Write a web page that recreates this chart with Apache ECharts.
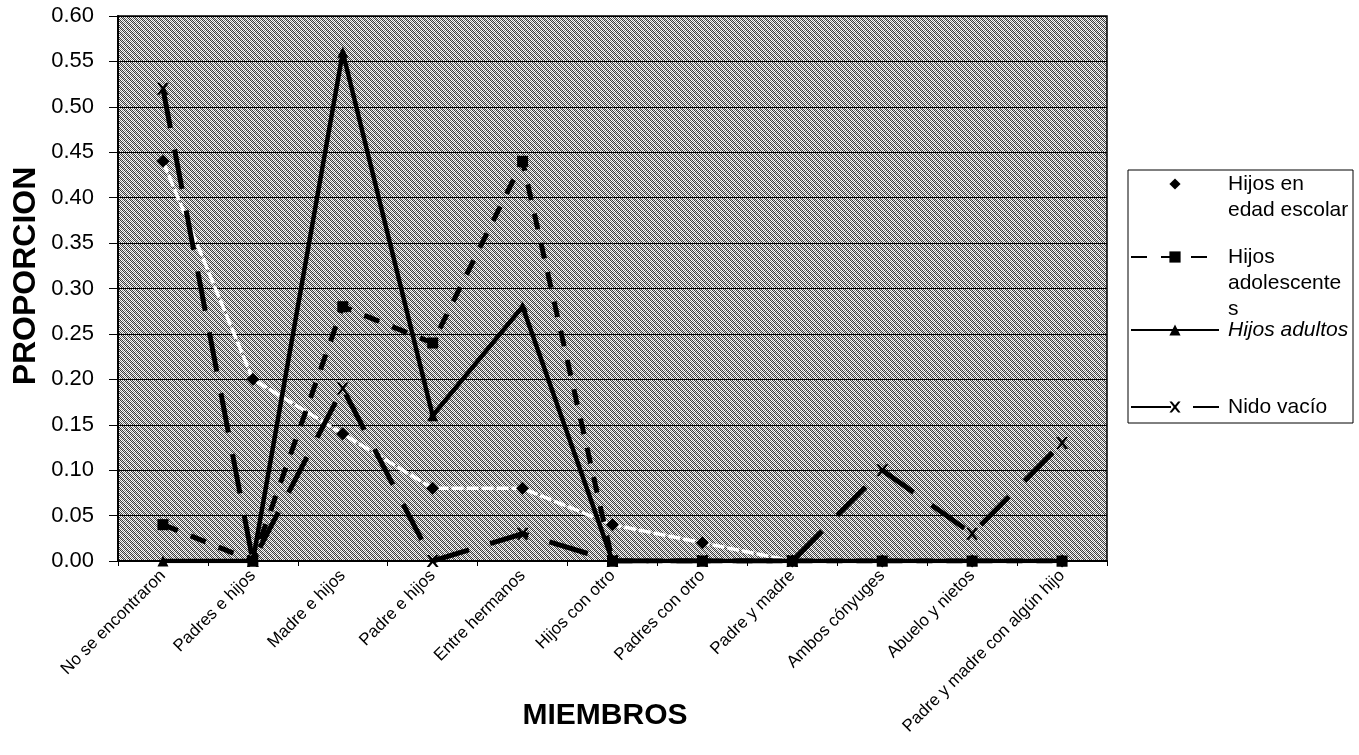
<!DOCTYPE html>
<html>
<head>
<meta charset="utf-8">
<script src="https://cdn.jsdelivr.net/npm/echarts@6/dist/echarts.min.js"></script>
<style>html,body{margin:0;padding:0;background:#fff}#c{width:1359px;height:755px}</style>
</head>
<body>
<div id="c"></div>
<script>
const categories = ['No se encontraron','Padres e hijos','Madre e hijos','Padre e hijos','Entre hermanos','Hijos con otro','Padres con otro','Padre y madre','Ambos cónyuges','Abuelo y nietos','Padre y madre con algún hijo'];
const hijosEscolar =     [0.44, 0.20, 0.14, 0.08, 0.08, 0.04, 0.02, 0.00, 0.00, 0.00, 0.00];
const hijosAdolescentes =[0.04, 0.00, 0.28, 0.24, 0.44, 0.00, 0.00, 0.00, 0.00, 0.00, 0.00];
const hijosAdultos =     [0.00, 0.00, 0.56, 0.16, 0.28, 0.00, 0.00, 0.00, 0.00, 0.00, 0.00];
const nidoVacio =        [0.52, 0.00, 0.19, 0.00, 0.03, 0.00, 0.00, 0.00, 0.10, 0.03, 0.13];
const seriesNames = ['Hijos en edad escolar','Hijos adolescentes','Hijos adultos','Nido vacío'];
const legendLabels = ['\nHijos en\nedad escolar','\n\nHijos\nadolescente\ns','Hijos adultos','Nido vacío'];
const yTicks = {min: 0, max: 0.6, interval: 0.05};

// dithered gray texture for plot area
const tile = document.createElement('canvas');
tile.width = 6; tile.height = 6;
const tc = tile.getContext('2d');
for (let y = 0; y < 6; y++) for (let x = 0; x < 6; x++) {
  const chk = (x + y) % 2 === 0;
  const d = (x - y + 12) % 6;
  let c;
  if (chk) c = (d === 0) ? '#7a7a7a' : '#3a3a3a';
  else c = (d === 3) ? '#d8d8d8' : '#ffffff';
  tc.fillStyle = c; tc.fillRect(x, y, 1, 1);
}

const FONT = '"Liberation Sans", Arial, sans-serif';
const xMark = 'path://M0,0 L2.2,0 L5,3.4 L7.8,0 L10,0 L6.2,5 L10,10 L7.8,10 L5,6.6 L2.2,10 L0,10 L3.8,5 Z';

const chart = echarts.init(document.getElementById('c'));
const LH = 26;
const lineCounts = [3, 5, 1, 1];
const iconY = [184, 257, 330, 407];
const legends = seriesNames.map((n, i) => ({
  data: [n],
  left: 1130,
  top: iconY[i] - lineCounts[i] * LH / 2,
  padding: 0,
  orient: 'vertical',
  itemWidth: 88,
  itemHeight: 14,
  itemGap: 0,
  selectedMode: false,
  formatter: () => legendLabels[i],
  textStyle: {
    fontFamily: FONT, fontSize: 21, color: '#000', lineHeight: LH,
    fontStyle: i === 2 ? 'italic' : 'normal',
    padding: [0, 0, 0, 4]
  }
}));

chart.setOption({
  animation: false,
  backgroundColor: '#fff',
  grid: {left: 118, right: 252, top: 16, bottom: 194, show: true,
    backgroundColor: {image: tile, repeat: 'repeat'}, borderColor: '#000', borderWidth: 1.5},
  legend: legends,
  graphic: [
    {type: 'rect', z: 0, shape: {x: 1128, y: 170, width: 225, height: 253},
     style: {fill: '#fff', stroke: '#000', lineWidth: 1}},
    {type: 'text', x: 26, y: 276, rotation: Math.PI/2, z: 10,
     style: {text: 'PROPORCION', font: 'bold 32px ' + FONT, fill: '#000', align: 'center', verticalAlign: 'middle'}},
    {type: 'text', x: 605, y: 716, z: 10,
     style: {text: 'MIEMBROS', font: 'bold 30px ' + FONT, fill: '#000', align: 'center', verticalAlign: 'middle'}}
  ],
  xAxis: {
    type: 'category', data: categories, boundaryGap: true,
    axisLine: {lineStyle: {color: '#000', width: 2}},
    axisTick: {show: true, length: 5, lineStyle: {color: '#000'}},
    axisLabel: {rotate: 45, interval: 0, margin: 12, color: '#000', fontFamily: FONT, fontSize: 17}
  },
  yAxis: {
    type: 'value', min: yTicks.min, max: yTicks.max, interval: yTicks.interval,
    axisLine: {show: true, lineStyle: {color: '#000', width: 2}},
    axisTick: {show: true, length: 9, lineStyle: {color: '#000'}},
    splitLine: {show: true, lineStyle: {color: '#000', width: 1}},
    axisLabel: {margin: 24, color: '#000', fontFamily: FONT, fontSize: 22, formatter: v => v.toFixed(2)}
  },
  series: [
    {name: seriesNames[0], type: 'line', data: hijosEscolar, symbol: 'diamond', symbolSize: 13,
     itemStyle: {color: '#000'}, lineStyle: {color: '#fff', width: 3.5, type: [12, 3]}, z: 2},
    {name: seriesNames[1], type: 'line', data: hijosAdolescentes, symbol: 'rect', symbolSize: 11,
     itemStyle: {color: '#000'}, lineStyle: {color: '#000', width: 5, type: [16, 14]}, z: 3},
    {name: seriesNames[2], type: 'line', data: hijosAdultos, symbol: 'triangle', symbolSize: 11,
     itemStyle: {color: '#000'}, lineStyle: {color: '#000', width: 4.5}, z: 4},
    {name: seriesNames[3], type: 'line', data: nidoVacio, symbol: xMark, symbolSize: 12,
     itemStyle: {color: '#000'}, lineStyle: {color: '#000', width: 5, type: [40, 22]}, z: 5}
  ]
});
</script>
</body>
</html>
